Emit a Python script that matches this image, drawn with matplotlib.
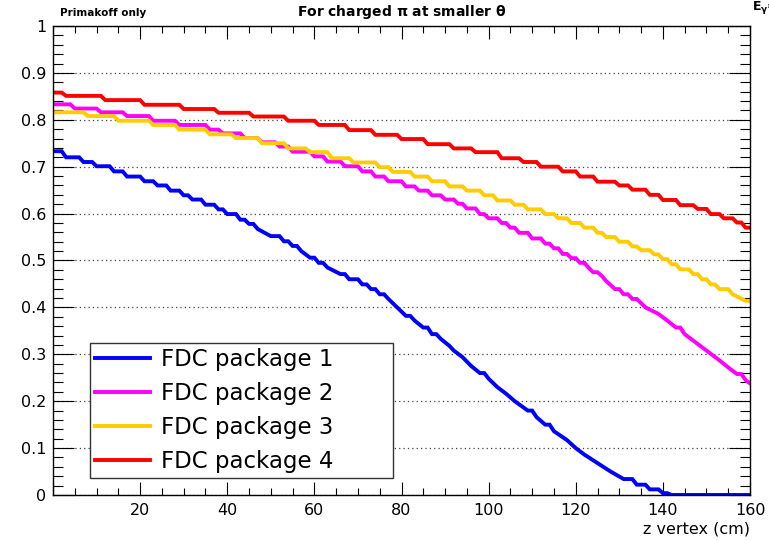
import matplotlib
matplotlib.use("Agg")
import matplotlib.pyplot as plt
from matplotlib.ticker import MultipleLocator, FuncFormatter

plt.rcParams['font.family'] = ['DejaVu Sans']
plt.rcParams['mathtext.default'] = 'regular'

# Efficiency vs z vertex, one step level per knot (z where the level starts)
z_pkg1 = [0, 3, 7, 10, 14, 17, 21, 24, 27, 30, 32, 35, 38, 40, 43, 45, 47, 50, 53, 55,
          57, 59, 61, 63, 66, 68, 71, 73, 75, 77, 79, 81, 83, 85, 87, 89, 91, 92, 94, 96,
          98, 100, 102, 104, 106, 109, 111, 113, 115, 118, 120, 122, 125, 128, 131, 134,
          137, 140, 142]
eff_pkg1 = [0.733, 0.720, 0.710, 0.701, 0.690, 0.679, 0.669, 0.660, 0.649, 0.639, 0.630,
            0.619, 0.609, 0.599, 0.587, 0.578, 0.567, 0.552, 0.541, 0.531, 0.520, 0.506,
            0.495, 0.485, 0.471, 0.460, 0.449, 0.439, 0.428, 0.418, 0.400, 0.382, 0.372,
            0.357, 0.343, 0.333, 0.318, 0.308, 0.294, 0.275, 0.260, 0.248, 0.230, 0.216,
            0.200, 0.180, 0.166, 0.150, 0.136, 0.117, 0.100, 0.086, 0.068, 0.050, 0.034,
            0.022, 0.012, 0.004, 0.0]

z_pkg2 = [0, 5, 11, 17, 23, 29, 36, 39, 44, 48, 52, 55, 60, 63, 67, 71, 74, 77, 81, 84,
          87, 90, 93, 95, 98, 100, 103, 105, 107, 110, 113, 115, 117, 119, 121, 123, 124,
          126, 127, 129, 131, 133, 135, 136, 139, 141, 143, 145, 147, 149, 151, 153, 155,
          157, 159, 160]
eff_pkg2 = [0.833, 0.824, 0.816, 0.808, 0.798, 0.789, 0.779, 0.771, 0.761, 0.752, 0.743,
            0.732, 0.722, 0.711, 0.701, 0.690, 0.679, 0.669, 0.658, 0.649, 0.639, 0.630,
            0.621, 0.611, 0.599, 0.590, 0.580, 0.570, 0.559, 0.547, 0.536, 0.526, 0.514,
            0.505, 0.495, 0.484, 0.475, 0.467, 0.456, 0.439, 0.428, 0.418, 0.409, 0.400,
            0.386, 0.372, 0.357, 0.343, 0.329, 0.315, 0.301, 0.287, 0.272, 0.258, 0.245,
            0.238]

z_pkg3 = [0, 8, 15, 23, 29, 36, 42, 48, 54, 59, 64, 69, 75, 78, 83, 87, 91, 95, 99, 102,
          106, 109, 113, 116, 119, 122, 125, 127, 130, 133, 135, 138, 140, 142, 144, 147,
          149, 151, 153, 156, 159]
eff_pkg3 = [0.816, 0.808, 0.798, 0.789, 0.779, 0.769, 0.761, 0.750, 0.739, 0.731, 0.718,
            0.709, 0.699, 0.689, 0.679, 0.669, 0.658, 0.649, 0.639, 0.628, 0.619, 0.609,
            0.599, 0.590, 0.580, 0.570, 0.559, 0.550, 0.540, 0.530, 0.522, 0.513, 0.503,
            0.492, 0.481, 0.471, 0.460, 0.449, 0.439, 0.428, 0.414]

z_pkg4 = [0, 3, 12, 21, 30, 38, 46, 54, 61, 68, 74, 80, 86, 92, 97, 103, 108, 112, 117,
          121, 125, 130, 133, 137, 140, 144, 148, 151, 154, 157, 159]
eff_pkg4 = [0.858, 0.851, 0.842, 0.832, 0.823, 0.815, 0.807, 0.798, 0.789, 0.778, 0.768,
            0.759, 0.748, 0.739, 0.731, 0.718, 0.710, 0.700, 0.690, 0.679, 0.668, 0.660,
            0.651, 0.640, 0.629, 0.618, 0.610, 0.599, 0.590, 0.581, 0.570]

labels = ["FDC package 1", "FDC package 2", "FDC package 3", "FDC package 4"]
colors = ["#0000ff", "#ff00ff", "#ffcc00", "#ff0000"]
z_max = 160


def staircase(z_knots, levels, z_end, step=0.014):
    # a level stays flat until one bin before the next knot;
    # larger drops (steep part of a curve) are joined directly
    xs, ys = [], []
    for i, (z, v) in enumerate(zip(z_knots, levels)):
        xs.append(z)
        ys.append(v)
        if i + 1 < len(z_knots):
            nxt, drop = z_knots[i + 1], v - levels[i + 1]
        else:
            nxt, drop = z_end + 1, 0.0
        if min(nxt - 1, z_end) > z and drop <= step:
            xs.append(min(nxt - 1, z_end))
            ys.append(v)
    return xs, ys


fig = plt.figure(figsize=(7.69, 5.40), dpi=100)
ax = fig.add_axes([53 / 769, 45 / 540, 697 / 769, 469 / 540])

series = [(z_pkg1, eff_pkg1), (z_pkg2, eff_pkg2), (z_pkg3, eff_pkg3), (z_pkg4, eff_pkg4)]
for (zk, ek), lab, col in zip(series, labels, colors):
    xs, ys = staircase(zk, ek, z_max)
    ax.plot(xs, ys, color=col, lw=2.8, label=lab, solid_joinstyle='miter')

ax.set_xlim(0, z_max)
ax.set_ylim(0, 1)
ax.xaxis.set_major_locator(MultipleLocator(20))
ax.xaxis.set_minor_locator(MultipleLocator(5))
ax.yaxis.set_major_locator(MultipleLocator(0.1))
ax.yaxis.set_minor_locator(MultipleLocator(0.02))
ax.xaxis.set_major_formatter(FuncFormatter(lambda v, p: '' if v == 0 else '%g' % v))
ax.yaxis.set_major_formatter(FuncFormatter(lambda v, p: '%g' % round(v, 2)))

ax.tick_params(axis='both', which='both', direction='in', top=True, right=True,
               width=0.8, labelsize=11.5, colors='black')
ax.tick_params(axis='y', which='major', length=15, pad=5)
ax.tick_params(axis='y', which='minor', length=7.5)
ax.tick_params(axis='x', which='major', length=9.5, pad=6)
ax.tick_params(axis='x', which='minor', length=5)
for sp in ax.spines.values():
    sp.set_linewidth(1.0)

ax.yaxis.grid(True, which='major', linestyle=(0, (1, 2.5)), color='0.25', linewidth=0.9)
ax.set_axisbelow(True)

ax.set_xlabel('z vertex (cm)', loc='right', fontsize=11.5, labelpad=2)

leg = ax.legend(loc='upper left', bbox_to_anchor=(0.053, 0.036, 0.435, 0.288),
                mode='expand', borderaxespad=0, fontsize=16.5, handlelength=2.4,
                handletextpad=0.5, labelspacing=0.49, borderpad=0.2, fancybox=False,
                framealpha=1, edgecolor='0.2')
leg.get_frame().set_linewidth(1.0)

fig.text(0.523, 0.978, r'For charged $\pi$ at smaller $\theta$', ha='center', va='center',
         fontsize=10, fontweight='bold')
fig.text(0.078, 0.976, 'Primakoff only', ha='left', va='center', fontsize=7.5,
         fontweight='bold')
fig.text(0.978, 0.987, r'E$_{\gamma}$=5.5 GeV', ha='left', va='center', fontsize=9,
         fontweight='bold')

fig.savefig('out.png', dpi=100)
